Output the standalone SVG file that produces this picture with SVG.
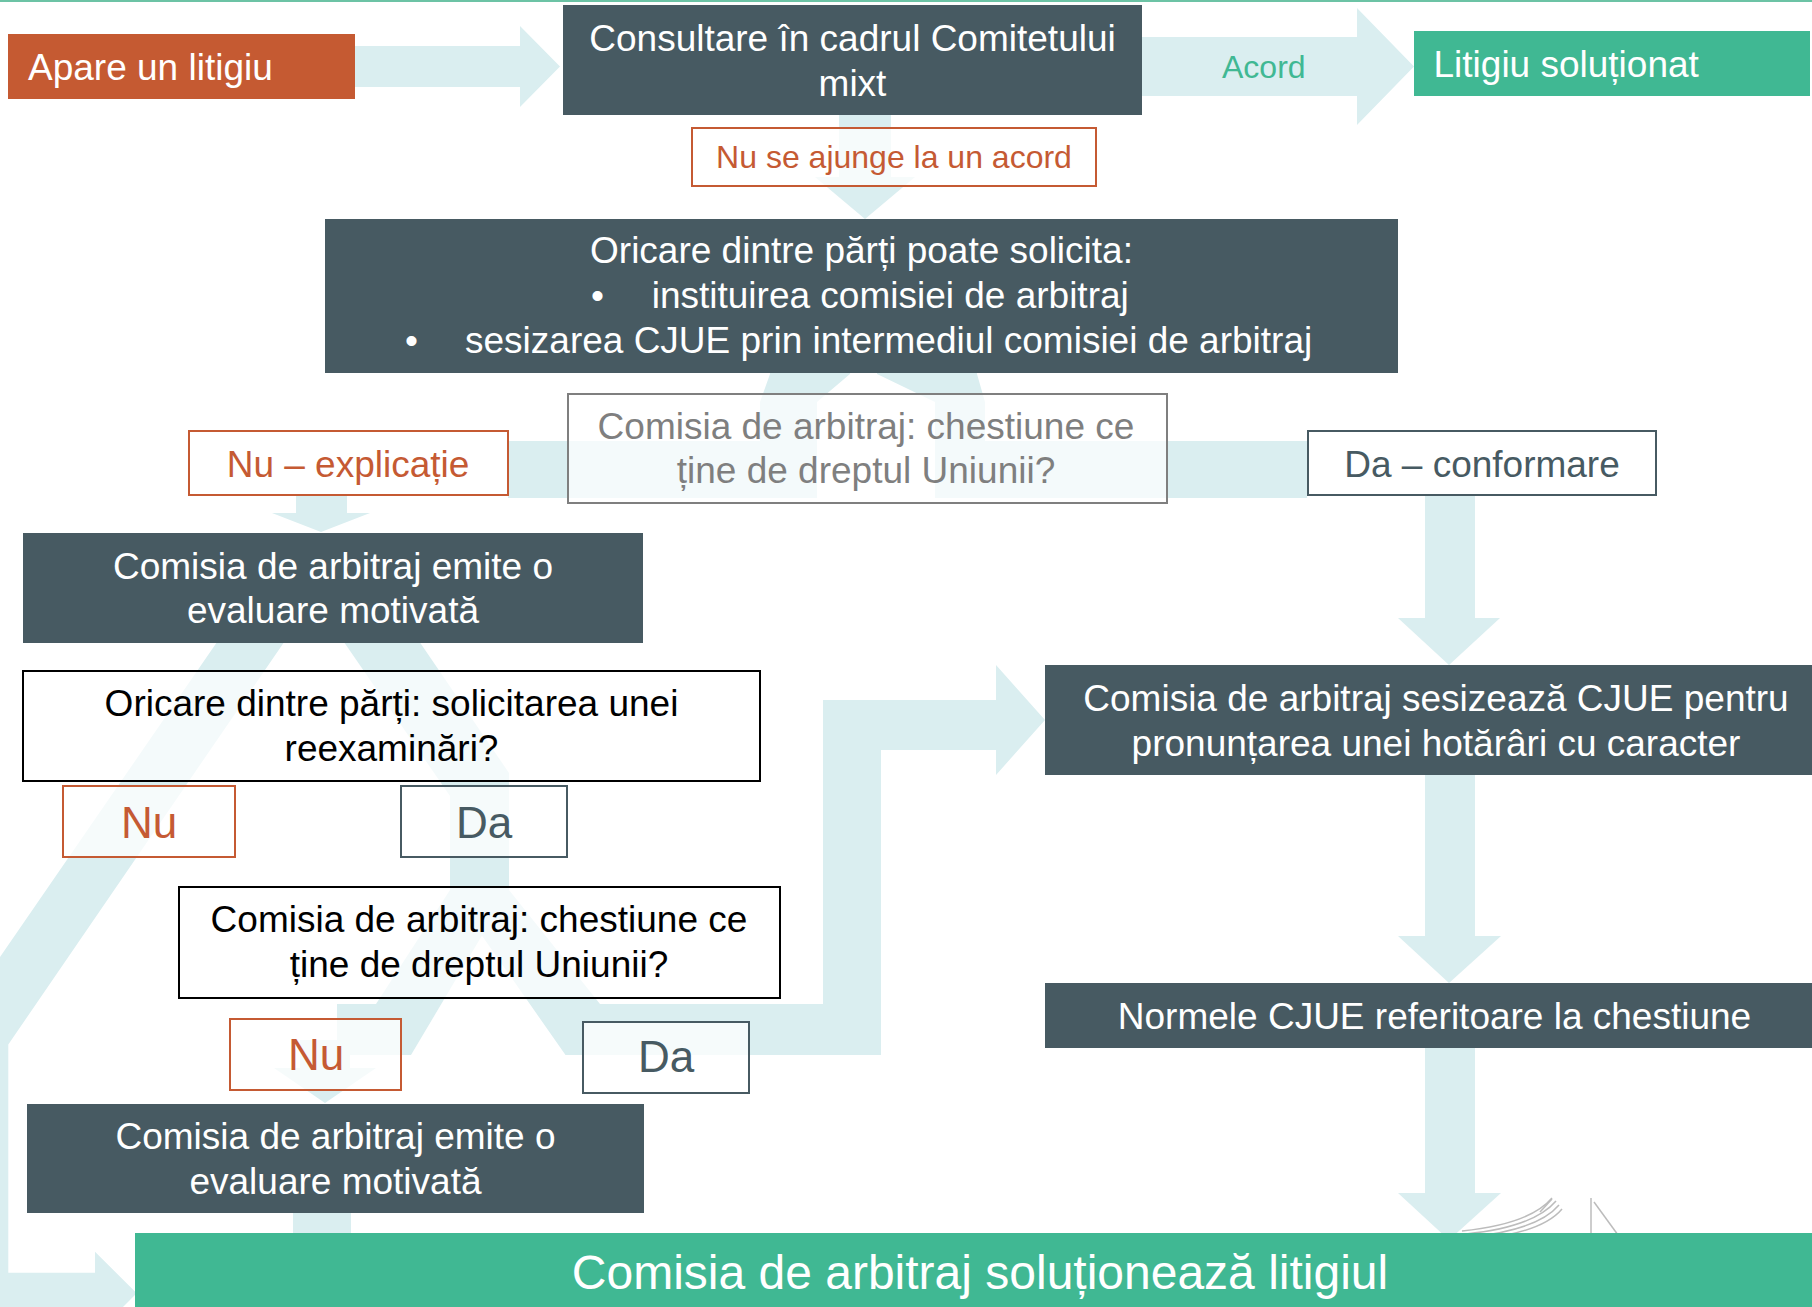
<svg xmlns="http://www.w3.org/2000/svg" width="1812" height="1307" viewBox="0 0 1812 1307">
<style>
.conn{fill:#daeef0;stroke:none}
.dark{fill:#475a62}
.green{fill:#40b893}
.orangefill{fill:#c55a32}
.lblO{fill:#fff;fill-opacity:.75;stroke:#c55a33;stroke-width:2}
.lblS{fill:#fff;fill-opacity:.75;stroke:#475a62;stroke-width:2}
.lblK{fill:#fff;fill-opacity:.7;stroke:#000;stroke-width:2}
.lblG{fill:#fff;fill-opacity:.7;stroke:#7f7f7f;stroke-width:2}
.opaque{fill-opacity:1}
text{font-family:"Liberation Sans",Arial,sans-serif;font-size:37px}
.c{text-anchor:middle}
.w{fill:#fff}
.k{fill:#000}
.o{fill:#c55a33}
.s{fill:#475a62}
.g{fill:#7f7f7f}
.gr{fill:#40b893}
.f32{font-size:32px}
.f44{font-size:44px}
.f48{font-size:48px}
.logo{fill:none;stroke:#bcbcbc;stroke-width:1.5}
</style>

<rect x="0" y="0" width="1812" height="2" fill="#6cc3a5"/>

<g id="connectors">
  <polygon class="conn" points="355,46 520,46 520,26 560,66.5 520,107 520,87 355,87"/>
  <polygon class="conn" points="1142,37 1357,37 1357,8 1414,66.5 1357,125 1357,96 1142,96"/>
  <polygon class="conn" points="839,110 891,110 891,177 915,177 865,219 815,177 839,177"/>
  <polygon class="conn" points="765,340 855,340 850,374 817,402 817,498 508,498 508,441 760,441 760,402 770,374"/>
  <polygon class="conn" points="877,340 980,340 977,374 985,402 985,441 1307,441 1307,498 935,498 935,402 877,374"/>
  <polygon class="conn" points="296,490 347,490 347,513 370,513 321,532 272,513 296,513"/>
  <polygon class="conn" points="1425,490 1475,490 1475,618 1500,618 1449,665 1398,618 1425,618"/>
  <polygon class="conn" points="1425,770 1475,770 1475,936 1501,936 1449,983 1398,936 1425,936"/>
  <polygon class="conn" points="1425,1045 1475,1045 1475,1193 1501,1193 1449,1240 1398,1193 1425,1193"/>
  <polygon class="conn" points="246,600 313,600 8.3,1044.5 8.3,1272.7 95,1272.7 95,1251.7 136.7,1293.3 95,1335 95,1314 -40,1314 -40,1015"/>
  <polygon class="conn" points="315,600 391,600 509,773 509,890 450,890 450,796"/>
  <polygon class="conn" points="450,890 509,890 411,1055 337,1055 337,1004 376,1004"/>
  <polygon class="conn" points="450,890 509,890 600,1004 823,1004 823,700 996,700 996,665 1045,720 996,775 996,750 881,750 881,1055 565.5,1055"/>
  <polygon class="conn" points="300,1040 350,1040 350,1068 376,1068 325,1103 274,1068 300,1068"/>
  <rect class="conn" x="293" y="1200" width="58" height="40"/>
</g>

<g id="logo">
  <path class="logo" d="M1462,1231 Q1530,1224 1552,1198"/>
  <path class="logo" d="M1466,1234 Q1534,1227 1556,1201"/>
  <path class="logo" d="M1470,1237 Q1538,1230 1559,1205"/>
  <path class="logo" d="M1474,1240 Q1542,1233 1562,1209"/>
  <path class="logo" d="M1540,1212 L1552,1199"/>
  <line class="logo" x1="1591" y1="1198" x2="1591" y2="1235"/>
  <line class="logo" x1="1594" y1="1202" x2="1618" y2="1235"/>
</g>

<g id="n-apare">
  <rect class="orangefill" x="8" y="34" width="347" height="65"/>
  <text class="w" x="28" y="80">Apare un litigiu</text>
</g>

<g id="n-consultare">
  <rect class="dark" x="563" y="5" width="579" height="110"/>
  <text class="w c" x="852.5" y="51">Consultare în cadrul Comitetului</text>
  <text class="w c" x="852.5" y="96">mixt</text>
</g>

<g id="n-acord">
  <text class="gr f32" x="1222" y="78">Acord</text>
</g>

<g id="n-solutionat">
  <rect class="green" x="1414" y="31" width="396" height="65"/>
  <text class="w" x="1433.5" y="77">Litigiu soluționat</text>
</g>

<g id="n-nuacord">
  <rect class="lblO" x="692" y="128" width="404" height="58"/>
  <text class="o f32 c" x="894" y="168">Nu se ajunge la un acord</text>
</g>

<g id="n-oricare">
  <rect class="dark" x="325" y="219" width="1073" height="154"/>
  <text class="w c" x="861.5" y="263">Oricare dintre părți poate solicita:</text>
  <text class="w" x="591" y="308">•</text>
  <text class="w" x="651.7" y="308">instituirea comisiei de arbitraj</text>
  <text class="w" x="405" y="353">•</text>
  <text class="w" x="465" y="353">sesizarea CJUE prin intermediul comisiei de arbitraj</text>
</g>

<g id="n-chestiune1">
  <rect class="lblG" x="568" y="394" width="599" height="109"/>
  <text class="g c" x="866" y="439">Comisia de arbitraj: chestiune ce</text>
  <text class="g c" x="866" y="483">ține de dreptul Uniunii?</text>
</g>

<g id="n-nuexplicatie">
  <rect class="lblO opaque" x="189" y="431" width="319" height="64"/>
  <text class="o c" x="348" y="477">Nu – explicație</text>
</g>

<g id="n-daconformare">
  <rect class="lblS opaque" x="1308" y="431" width="348" height="64"/>
  <text class="s c" x="1482" y="477">Da – conformare</text>
</g>

<g id="n-emite1">
  <rect class="dark" x="23" y="533" width="620" height="110"/>
  <text class="w c" x="333" y="579">Comisia de arbitraj emite o</text>
  <text class="w c" x="333" y="623">evaluare motivată</text>
</g>

<g id="n-reexaminare">
  <rect class="lblK" x="23" y="671" width="737" height="110"/>
  <text class="k c" x="391.5" y="716">Oricare dintre părți: solicitarea unei</text>
  <text class="k c" x="391.5" y="761">reexaminări?</text>
</g>

<g id="n-nu1">
  <rect class="lblO" x="63" y="786" width="172" height="71"/>
  <text class="o f44 c" x="149" y="838">Nu</text>
</g>

<g id="n-da1">
  <rect class="lblS" x="401" y="786" width="166" height="71"/>
  <text class="s f44 c" x="484" y="838">Da</text>
</g>

<g id="n-chestiune2">
  <rect class="lblK" x="179" y="887" width="601" height="111"/>
  <text class="k c" x="479" y="932">Comisia de arbitraj: chestiune ce</text>
  <text class="k c" x="479" y="977">ține de dreptul Uniunii?</text>
</g>

<g id="n-nu2">
  <rect class="lblO" x="230" y="1019" width="171" height="71"/>
  <text class="o f44 c" x="316" y="1070">Nu</text>
</g>

<g id="n-da2">
  <rect class="lblS" x="583" y="1022" width="166" height="71"/>
  <text class="s f44 c" x="666" y="1072">Da</text>
</g>

<g id="n-emite2">
  <rect class="dark" x="27" y="1104" width="617" height="109"/>
  <text class="w c" x="335.5" y="1149">Comisia de arbitraj emite o</text>
  <text class="w c" x="335.5" y="1194">evaluare motivată</text>
</g>

<g id="n-sesizeaza">
  <rect class="dark" x="1045" y="665" width="767" height="110"/>
  <text class="w c" x="1436" y="711">Comisia de arbitraj sesizează CJUE pentru</text>
  <text class="w c" x="1436" y="756">pronunțarea unei hotărâri cu caracter</text>
</g>

<g id="n-normele">
  <rect class="dark" x="1045" y="983" width="767" height="65"/>
  <text class="w c" x="1434.5" y="1029">Normele CJUE referitoare la chestiune</text>
</g>

<g id="n-final">
  <rect class="green" x="135" y="1233" width="1677" height="74"/>
  <text class="w f48 c" x="980" y="1289">Comisia de arbitraj soluționează litigiul</text>
</g>
</svg>
